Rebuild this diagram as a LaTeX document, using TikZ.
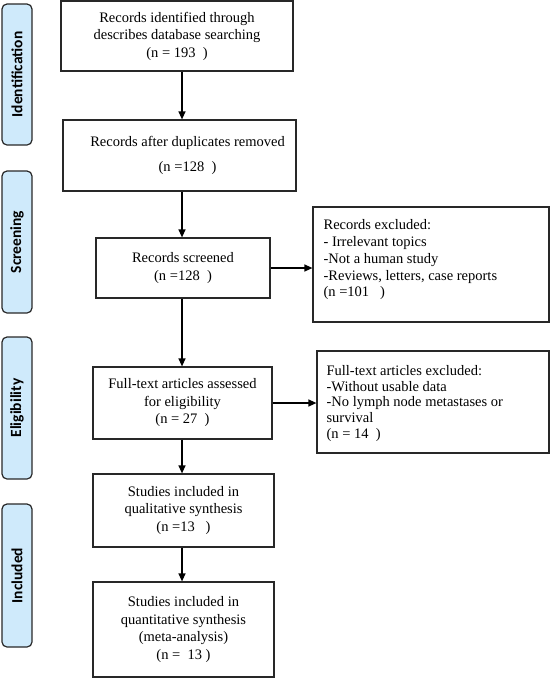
\documentclass[tikz,border=0pt]{standalone}
\usepackage{fontspec}
\setmainfont{Liberation Serif}
\newfontfamily\lblfont{Carlito}
\usetikzlibrary{arrows.meta,calc}
\definecolor{lblblue}{RGB}{207,234,251}
\definecolor{edgegray}{RGB}{40,40,40}
\begin{document}
\begin{tikzpicture}[x=1pt,y=-1pt,
  box/.style={draw=edgegray, line width=1.2pt, align=center, inner sep=0pt,
    font=\fontsize{14.5}{17.5}\selectfont},
  txt/.style={align=center, inner sep=0pt, font=\fontsize{14.5}{17.5}\selectfont},
  extext/.style={align=left, inner sep=0pt, anchor=north west},
  lbl/.style={draw=edgegray, line width=1.2pt, fill=lblblue, rounded corners=5pt,
    rotate=90, minimum height=30pt, inner sep=0pt,
    font=\lblfont\bfseries\fontsize{15.5}{18}\selectfont},
  arr/.style={line width=1.3pt, draw=black, -{Triangle[length=8pt,width=7pt]}}]
\useasboundingbox (0,0) rectangle (550,678);

% phase labels
\node[lbl, minimum width=141pt] (lid) at (17,74.5) {Identification};
\node[lbl, minimum width=142pt] (lsc) at (17,242) {Screening};
\node[lbl, minimum width=142pt] (lel) at (17,408) {Eligibility};
\node[lbl, minimum width=143pt] (lin) at (17,575.5) {Included};

% main column
\node[box, minimum width=232pt, minimum height=70pt] (b1) at (177,36)
  {Records identified through\\describes database searching\\(n = 193\ \ )};
\node[box, minimum width=233pt, minimum height=71pt] (b2) at (179.5,155.5) {};
\node[txt] (b2t) at ($(b2.center)+(8,0)$)
  {Records after duplicates removed\\[7.5pt](n =128\ \ )};
\node[box, minimum width=174pt, minimum height=60pt] (b3) at (183,268)
  {Records screened\\(n =128\ \ )};
\node[box, minimum width=179pt, minimum height=72pt] (b4) at (182.5,403)
  {Full-text articles assessed\\for eligibility\\(n = 27\ \ )};
\node[box, minimum width=181pt, minimum height=73pt] (b5) at (183.5,510.5)
  {Studies included in\\qualitative synthesis\\(n =13\ \ \ )};
\node[box, minimum width=181pt, minimum height=95pt] (b6) at (183.5,629.5)
  {Studies included in\\quantitative synthesis\\(meta-analysis)\\(n = \ 13 )};

% exclusion boxes
\node[box, minimum width=236pt, minimum height=115pt] (r1) at (431,264.5) {};
\node[extext, font=\fontsize{14.5}{16.8}\selectfont] (r1t) at ($(r1.north west)+(11,13)$)
  {Records excluded:\\- Irrelevant topics\\-Not a human study\\-Reviews, letters, case reports\\(n =101\ \ \ )};
\node[box, minimum width=232pt, minimum height=102pt] (r2) at (433,402) {};
\node[extext, font=\fontsize{14.5}{15.6}\selectfont] (r2t) at ($(r2.north west)+(10,15)$)
  {Full-text articles excluded:\\-Without usable data\\-No lymph node metastases or\\survival\\(n = 14\ \ )};

% connectors
\coordinate (ax) at (182,0);
\draw[arr] (b1.south -| ax) -- (b2.north -| ax);
\draw[arr] (b2.south -| ax) -- (b3.north -| ax);
\draw[arr] (b3.south -| ax) -- (b4.north -| ax);
\draw[arr] (b4.south -| ax) -- (b5.north -| ax);
\draw[arr] (b5.south -| ax) -- (b6.north -| ax);
\draw[arr] (b3.east) -- (b3.east -| r1.west);
\draw[arr] (b4.east) -- (b4.east -| r2.west);
\end{tikzpicture}
\end{document}
